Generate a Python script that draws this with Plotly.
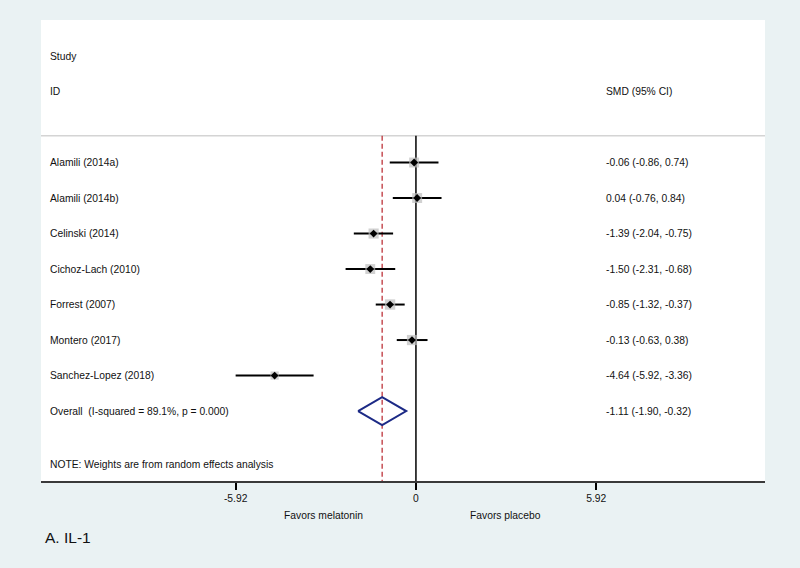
import plotly.graph_objects as go

# study-level data
studies = ["Alamili (2014a)", "Alamili (2014b)", "Celinski (2014)", "Cichoz-Lach (2010)",
           "Forrest (2007)", "Montero (2017)", "Sanchez-Lopez (2018)"]
smd = [-0.06, 0.04, -1.39, -1.50, -0.85, -0.13, -4.64]
ci_low = [-0.86, -0.76, -2.04, -2.31, -1.32, -0.63, -5.92]
ci_high = [0.74, 0.84, -0.75, -0.68, -0.37, 0.38, -3.36]
weights = [14.6, 14.6, 15.1, 14.5, 15.8, 15.4, 10.0]

overall = -1.11
overall_low = -1.90
overall_high = -0.32
overall_label = "Overall  (I-squared = 89.1%, p = 0.000)"

tick_vals = [-5.92, 0, 5.92]
tick_text = ["-5.92", "0", "5.92"]

# row layout (y increases downwards)
study_rows = [3 + i for i in range(len(studies))]
overall_row = 10
note_row = 11.5
header_line = 2.245
y_top, y_bottom = -1.014, 11.97
x_left, x_right = -12.31, 11.46
x_label = -12.09
x_stat = 6.16

BG = "#EAF2F3"
FONT = "Liberation Sans, Arial, sans-serif"
fs = 10.3

fig = go.Figure()

# CI whiskers
cx, cy = [], []
for lo, hi, r in zip(ci_low, ci_high, study_rows):
    cx += [lo, hi, None]
    cy += [r, r, None]
fig.add_trace(go.Scatter(x=cx, y=cy, mode="lines", line=dict(color="black", width=2),
                         hoverinfo="skip", showlegend=False))

# weight boxes
fig.add_trace(go.Scatter(x=smd, y=study_rows, mode="markers",
                         marker=dict(symbol="square", color="#bdbdbd",
                                     size=[2.6 * w ** 0.5 for w in weights], line=dict(width=0)),
                         showlegend=False))
# point estimates
fig.add_trace(go.Scatter(x=smd, y=study_rows, mode="markers",
                         marker=dict(symbol="diamond", color="black", size=6),
                         showlegend=False))

# overall diamond
h = 0.394
fig.add_trace(go.Scatter(x=[overall_low, overall, overall_high, overall, overall_low],
                         y=[overall_row, overall_row - h, overall_row, overall_row + h, overall_row],
                         mode="lines", line=dict(color="#1c2a86", width=2),
                         showlegend=False))

# reference lines
fig.add_shape(type="line", xref="x", yref="y", x0=0, x1=0, y0=header_line, y1=y_bottom,
              line=dict(color="black", width=1.5), layer="below")
fig.add_shape(type="line", xref="x", yref="y", x0=overall, x1=overall, y0=header_line, y1=y_bottom,
              line=dict(color="#b8232b", width=1.2, dash="5px,3px"), layer="below")
fig.add_shape(type="line", xref="paper", yref="y", x0=0, x1=1, y0=header_line, y1=header_line,
              line=dict(color="#d4d4d4", width=1.5), layer="below")

ann = []
def txt(x, y, s, **kw):
    d = dict(x=x, y=y, text=s, showarrow=False, xanchor="left", yanchor="middle",
             font=dict(family=FONT, size=fs, color="#111111"))
    d.update(kw)
    ann.append(d)

txt(x_label, 0, "Study")
txt(x_label, 1, "ID")
txt(x_stat, 1, "SMD (95% CI)")
for s, e, lo, hi, r in zip(studies, smd, ci_low, ci_high, study_rows):
    txt(x_label, r, s)
    txt(x_stat, r, f"{e:.2f} ({lo:.2f}, {hi:.2f})")
txt(x_label, overall_row, overall_label)
txt(x_stat, overall_row, f"{overall:.2f} ({overall_low:.2f}, {overall_high:.2f})")
txt(x_label, note_row, "NOTE: Weights are from random effects analysis")

txt(-3.03, -0.0738, "Favors melatonin", xanchor="center", yref="paper")
txt(2.93, -0.0738, "Favors placebo", xanchor="center", yref="paper")
txt(0.003, -0.1215, "A. IL-1", xref="paper", yref="paper",
    font=dict(family=FONT, size=15.5, color="#111111"))

fig.update_layout(
    width=800, height=568,
    margin=dict(l=41, r=35, t=20, b=87),
    paper_bgcolor=BG, plot_bgcolor="white",
    annotations=ann,
    xaxis=dict(range=[x_left, x_right], tickvals=tick_vals, ticktext=tick_text,
               ticks="outside", ticklen=7, tickwidth=1.5, tickcolor="black",
               showline=True, linecolor="#3a3a3a", linewidth=2, showgrid=False,
               zeroline=False, tickfont=dict(family=FONT, size=fs, color="#111111")),
    yaxis=dict(range=[y_bottom, y_top], visible=False, showgrid=False, zeroline=False),
)

# drop the default page margin so the figure sits at the window's corner
fig.write_html("out.html", config={"displayModeBar": False},
               post_script="document.body.style.margin='0';document.body.style.background='%s';" % BG)
